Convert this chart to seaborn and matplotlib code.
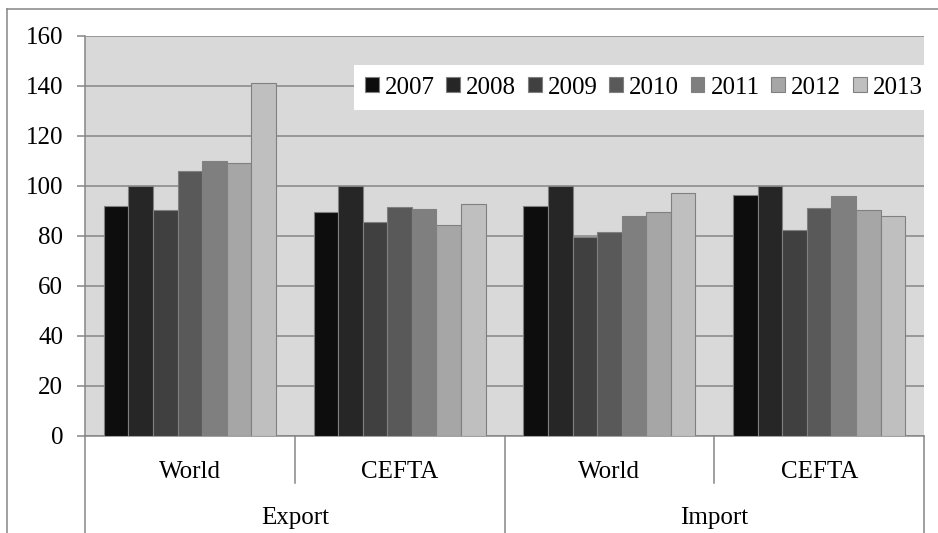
import matplotlib
matplotlib.use("Agg")
import matplotlib.pyplot as plt
import matplotlib.transforms as mtransforms
from matplotlib.lines import Line2D
import pandas as pd
import seaborn as sns

# Index values (2008 = 100) by flow and partner
years = ["2007", "2008", "2009", "2010", "2011", "2012", "2013"]
flows = ["Export", "Export", "Import", "Import"]
partners = ["World", "CEFTA", "World", "CEFTA"]
export_world = [92.2, 100.0, 90.6, 106.1, 110.0, 109.3, 141.2]
export_cefta = [89.5, 100.0, 85.8, 91.6, 90.8, 84.3, 92.7]
import_world = [92.2, 100.0, 79.5, 81.7, 88.2, 89.6, 97.2]
import_cefta = [96.6, 100.0, 82.6, 91.1, 96.2, 90.3, 88.1]
yticks = [0, 20, 40, 60, 80, 100, 120, 140, 160]

series = [export_world, export_cefta, import_world, import_cefta]
keys = [f"{f} {p}" for f, p in zip(flows, partners)]
rows = []
for key, vals in zip(keys, series):
    for yr, v in zip(years, vals):
        rows.append({"cat": key, "year": yr, "value": v})
df = pd.DataFrame(rows)

greys = ["#0d0d0d", "#262626", "#404040", "#595959", "#7f7f7f", "#a6a6a6", "#bfbfbf"]
line_grey = "#868686"

plt.rcParams["font.family"] = ["Liberation Serif", "DejaVu Serif"]
plt.rcParams["font.size"] = 18

W, H = 938, 533
fig = plt.figure(figsize=(W / 100, H / 100), dpi=100)
fig.patch.set_facecolor("white")
left, right, top, bottom = 85, 924, 36, 436
ax = fig.add_axes([left / W, 1 - bottom / H, (right - left) / W, (bottom - top) / H])
ax.set_facecolor("#d9d9d9")

sns.barplot(data=df, x="cat", y="value", hue="year", order=keys, hue_order=years,
            palette=greys, width=0.82, edgecolor="#808080", linewidth=0.8,
            saturation=1, ax=ax, zorder=3)

ax.set_ylim(0, 160)
ax.set_xlim(-0.5, 3.5)
ax.set_yticks(yticks)
ax.set_yticklabels([str(t) for t in yticks])
ax.set_xticks([])
ax.set_xlabel("")
ax.set_ylabel("")
ax.yaxis.grid(True, color=line_grey, linewidth=1.1, zorder=0)
ax.set_axisbelow(True)
for s in ["top", "right"]:
    ax.spines[s].set_visible(False)
for s in ["left", "bottom"]:
    ax.spines[s].set_color(line_grey)
    ax.spines[s].set_linewidth(1.1)
ax.tick_params(axis="y", length=5.8, width=1.1, color=line_grey, pad=10, labelsize=18)

# Two-level category axis
trans = mtransforms.blended_transform_factory(ax.transData, ax.transAxes)
short_y = (bottom - 483) / (bottom - top)
long_y = (bottom - H) / (bottom - top)
for xb, yend in [(-0.5, long_y), (0.5, short_y), (1.5, long_y), (2.5, short_y), (3.5, long_y)]:
    ax.add_line(Line2D([xb, xb], [0, yend], transform=trans, color=line_grey,
                       linewidth=1.1, clip_on=False))
lab1_y = (bottom - 472) / (bottom - top)
lab2_y = (bottom - 518) / (bottom - top)
for i, p in enumerate(partners):
    ax.text(i, lab1_y, p, transform=trans, ha="center", va="center", fontsize=18)
for i, f in enumerate(["Export", "Import"]):
    ax.text(0.5 + 2 * i, lab2_y, f, transform=trans, ha="center", va="center", fontsize=18)

# Legend across the upper part of the plot area (its white box runs into the white margin)
handles, labels = ax.get_legend_handles_labels()
lx0 = (355 - left) / (right - left)
lx1 = (934 - left) / (right - left)
ly0 = (bottom - 111) / (bottom - top)
ly1 = (bottom - 64) / (bottom - top)
leg = ax.legend(handles, labels, ncol=7, loc="center right",
                bbox_to_anchor=(lx0, ly0, lx1 - lx0, ly1 - ly0),
                frameon=True, fancybox=False, framealpha=1, facecolor="white",
                edgecolor="white", handlelength=0.55, handleheight=0.55,
                handletextpad=0.25, columnspacing=0.46, borderpad=0.45,
                borderaxespad=0, fontsize=18)
leg.get_frame().set_linewidth(0)
for h in leg.legend_handles:
    h.set_edgecolor("#808080")
    h.set_linewidth(0.8)

# Chart-area border
fig.add_artist(Line2D([7 / W, 7 / W], [0, 1 - 9 / H], color=line_grey, linewidth=1.1))
fig.add_artist(Line2D([7 / W, 1], [1 - 9 / H, 1 - 9 / H], color=line_grey, linewidth=1.1))

fig.savefig("out.png", dpi=100, facecolor="white")
